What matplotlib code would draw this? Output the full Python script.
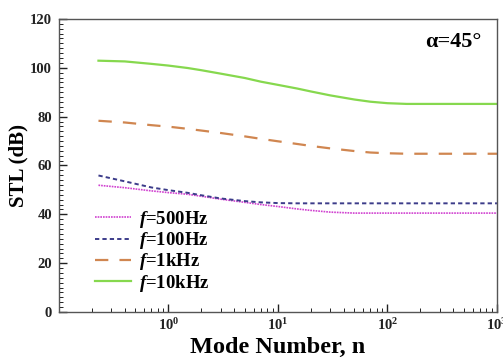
import matplotlib
matplotlib.use('Agg')
import matplotlib.pyplot as plt
from matplotlib.ticker import LogLocator, MultipleLocator, NullFormatter

plt.rcParams['font.family'] = 'Liberation Serif'
plt.rcParams['font.weight'] = 'bold'
plt.rcParams['mathtext.fontset'] = 'custom'
plt.rcParams['mathtext.rm'] = 'Liberation Serif:bold'
plt.rcParams['mathtext.it'] = 'Liberation Serif:italic:bold'

# mode number and STL curves for each frequency
n = [0.23, 0.4, 0.7, 1, 1.5, 2, 3, 5, 7, 10, 15, 20, 30, 50, 70, 100, 150, 200, 300, 500, 700, 1000]
stl_500 = [51.9, 50.9, 49.6, 48.9, 48.2, 47.4, 46.2, 44.9, 44.0, 43.2, 42.2, 41.6, 40.9, 40.5, 40.5,
           40.5, 40.5, 40.5, 40.5, 40.5, 40.5, 40.5]
stl_100 = [55.9, 53.5, 51.0, 49.9, 48.8, 47.8, 46.5, 45.4, 44.9, 44.6, 44.5, 44.5, 44.5, 44.5, 44.5,
           44.5, 44.5, 44.5, 44.5, 44.5, 44.5, 44.5]
stl_1k = [78.3, 77.6, 76.5, 75.9, 75.0, 74.3, 73.3, 71.9, 70.9, 69.9, 68.8, 68.0, 67.0, 65.9, 65.3,
          65.0, 64.8, 64.8, 64.8, 64.8, 64.8, 64.8]
stl_10k = [102.9, 102.6, 101.6, 100.9, 99.9, 99.0, 97.6, 95.8, 94.3, 93.0, 91.5, 90.3, 88.7, 87.0, 86.1,
           85.5, 85.2, 85.2, 85.2, 85.2, 85.2, 85.2]

fig = plt.figure(figsize=(5.03, 3.57), dpi=100)
ax = fig.add_axes([0.117, 0.126, 0.871, 0.821])

ax.plot(n, stl_500, color='#d040d0', linestyle=(0, (1, 0.6)), linewidth=1.2, label=r'$\it{f}$=500Hz')
ax.plot(n, stl_100, color='#3c3c8a', linestyle=(0, (2.2, 1.6)), linewidth=1.4, label=r'$\it{f}$=100Hz')
ax.plot(n, stl_1k, color='#d08650', linestyle=(0, (6, 5)), linewidth=1.6, label=r'$\it{f}$=1kHz')
ax.plot(n, stl_10k, color='#86d84e', linestyle='-', linewidth=1.6, label=r'$\it{f}$=10kHz')

ax.set_xscale('log')
ax.set_xlim(0.1, 1000)
ax.set_ylim(0, 120)
ax.set_xticks([1, 10, 100, 1000])
ax.xaxis.set_minor_locator(LogLocator(base=10, subs=range(2, 10), numticks=20))
ax.xaxis.set_minor_formatter(NullFormatter())
ax.yaxis.set_major_locator(MultipleLocator(20))
ax.yaxis.set_minor_locator(MultipleLocator(2))

ax.tick_params(which='both', direction='in', top=False, right=False, labelsize=10.5, colors='#222222')
ax.tick_params(which='major', length=6, width=1)
ax.tick_params(which='minor', length=3, width=0.7)
ax.tick_params(axis='y', pad=5)
for s in ax.spines.values():
    s.set_color('#555555')
    s.set_linewidth(1)

ax.set_xlabel('Mode Number, n', fontsize=17.5, fontweight='bold', labelpad=3)
ax.set_ylabel('STL (dB)', fontsize=15, fontweight='bold', labelpad=1)

ax.text(0.9, 0.92, 'α=45°', transform=ax.transAxes, ha='center', va='center',
        fontsize=16, fontweight='bold')

ax.legend(loc='lower left', bbox_to_anchor=(0.062, 0.03), frameon=False,
          handlelength=1.9, handletextpad=0.4, labelspacing=0.02, borderpad=0,
          prop={'weight': 'bold', 'size': 13.5})

fig.savefig('out.png', dpi=100)
